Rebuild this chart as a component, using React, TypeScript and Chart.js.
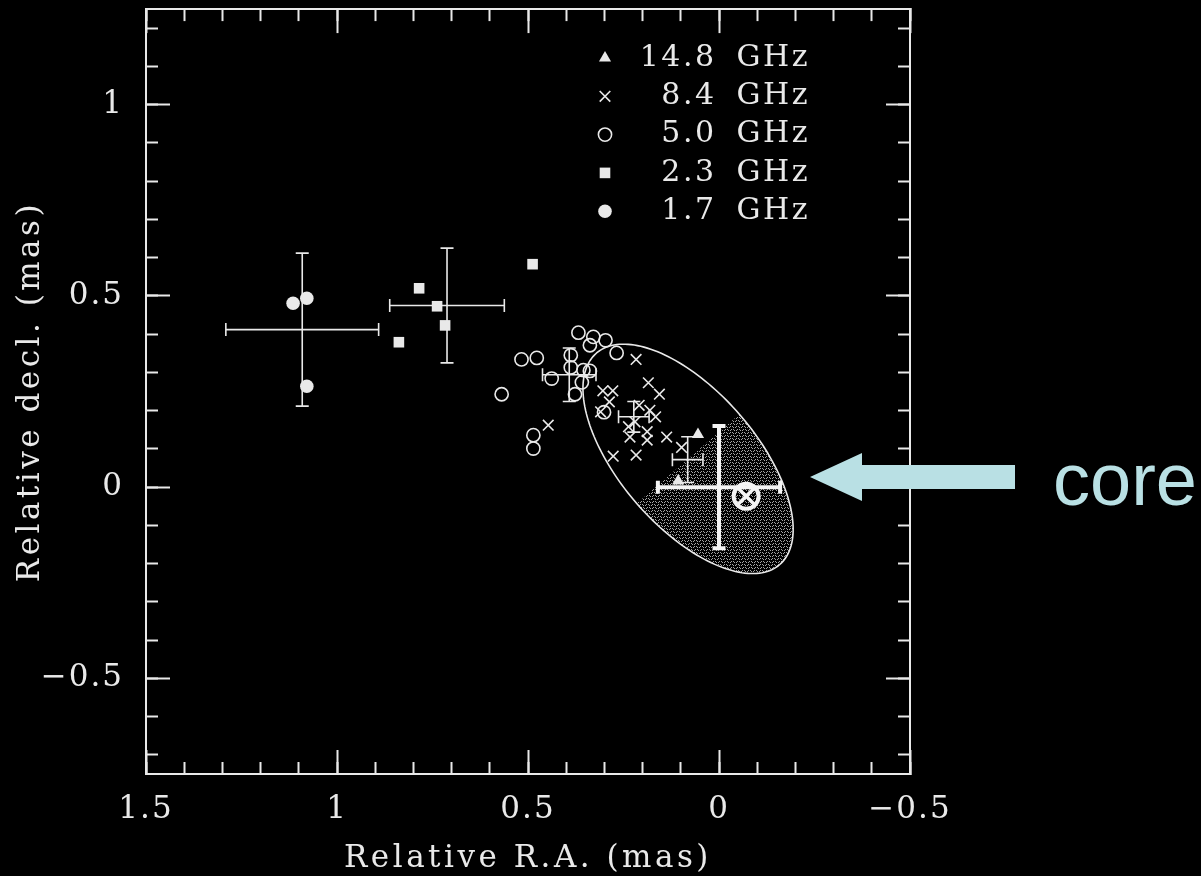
import React, { useEffect, useRef } from 'react';
import { Chart, registerables } from 'chart.js';
import { drawPoint } from 'chart.js/helpers';

Chart.register(...registerables);

// ---------------- data (relative R.A. / decl. in mas) ----------------
const LEGEND_LABELS = ['14.8 GHz', '8.4 GHz', '5.0 GHz', '2.3 GHz', '1.7 GHz'];

const F148_RA = [0.055, 0.107];
const F148_DEC = [0.138, 0.016];

const F84_RA = [0.217, 0.185, 0.156, 0.304, 0.278, 0.287, 0.31, 0.209, 0.181, 0.166, 0.22, 0.237, 0.188, 0.137, 0.188, 0.233, 0.098, 0.277, 0.217, 0.447];
const F84_DEC = [0.334, 0.273, 0.243, 0.252, 0.252, 0.223, 0.197, 0.214, 0.201, 0.184, 0.171, 0.158, 0.145, 0.131, 0.123, 0.131, 0.104, 0.081, 0.084, 0.162];

const F50_RA = [0.368, 0.329, 0.297, 0.338, 0.268, 0.517, 0.477, 0.388, 0.388, 0.438, 0.355, 0.338, 0.359, 0.377, 0.569, 0.486, 0.486, 0.301];
const F50_DEC = [0.404, 0.393, 0.384, 0.371, 0.351, 0.334, 0.338, 0.345, 0.313, 0.284, 0.306, 0.304, 0.274, 0.243, 0.243, 0.136, 0.101, 0.196];

const F23_RA = [0.785, 0.738, 0.717, 0.838, 0.488];
const F23_DEC = [0.52, 0.473, 0.423, 0.379, 0.583];

const F17_RA = [1.115, 1.079, 1.079];
const F17_DEC = [0.481, 0.494, 0.264];

// mean positions with error bars (1.7, 2.3, 5.0, 8.4, 14.8 GHz)
const ERR_RA = [1.091, 0.712, 0.392, 0.223, 0.082];
const ERR_DEC = [0.412, 0.475, 0.294, 0.184, 0.072];
const ERR_SIG_RA = [0.2, 0.15, 0.07, 0.04, 0.04];
const ERR_SIG_DEC = [0.2, 0.15, 0.07, 0.04, 0.06];

// core position estimate
const CORE_RA = 0.0;
const CORE_DEC = 0.0;
const CORE_SIG = 0.16;
const CORE_MARK_RA = -0.071;
const CORE_MARK_DEC = -0.024;

// beam ellipse
const BEAM_RA = 0.081;
const BEAM_DEC = 0.074;
const BEAM_MAJ = 0.366;
const BEAM_MIN = 0.178;
const BEAM_PA = 41; // degrees, N through E

// axes
const X_MIN = -0.5;
const X_MAX = 1.5;
const Y_MIN = -0.75;
const Y_MAX = 1.25;
const X_MAJOR = [1.5, 1, 0.5, 0, -0.5];
const Y_MAJOR = [-0.5, 0, 0.5, 1];
const X_MINOR = Array.from({ length: 21 }, (_, i) => Math.round((-0.5 + i * 0.1) * 10) / 10);
const Y_MINOR = Array.from({ length: 20 }, (_, i) => Math.round((-0.7 + i * 0.1) * 10) / 10);

const CORE_TEXT = 'core';

// ---------------- styling ----------------
const INK = '#e9e9e9';
const SERIF = "'DejaVu Serif', 'Liberation Serif', serif";
const CYAN = '#b9e0e4';

const pts = (xs: number[], ys: number[]) => xs.map((x, i) => ({ x, y: ys[i] }));

const fmt = (v: number) => (v < 0 ? '\u2212' + String(Math.abs(v)) : String(v));

function axis(id: string, ax: 'x' | 'y', position: string, ticksArr: number[], tl: number, weight: number, size: number, labels: boolean, title?: string) {
  const isX = ax === 'x';
  return {
    type: 'linear',
    axis: ax,
    position,
    weight,
    min: isX ? X_MIN : Y_MIN,
    max: isX ? X_MAX : Y_MAX,
    reverse: isX,
    afterBuildTicks: (s: any) => {
      s.ticks = ticksArr.map((v) => ({ value: v }));
    },
    afterFit: (s: any) => {
      if (isX) s.height = size;
      else s.width = size;
      s.paddingLeft = 0;
      s.paddingRight = 0;
      s.paddingTop = 0;
      s.paddingBottom = 0;
      if (title && !s._titlePatched) {
        const orig = s.drawTitle;
        s.drawTitle = function () {
          const c = this.ctx;
          const prev = c.letterSpacing;
          c.letterSpacing = '3.5px';
          orig.call(this);
          c.letterSpacing = prev;
        };
        s._titlePatched = true;
      }
    },
    grid: {
      display: true,
      drawOnChartArea: false,
      drawTicks: true,
      tickLength: tl,
      tickColor: INK,
      tickWidth: 2,
    },
    border: { display: true, color: INK, width: 2 },
    ticks: {
      display: labels,
      autoSkip: false,
      maxRotation: 0,
      minRotation: 0,
      padding: isX ? 44 : 46,
      color: INK,
      font: { family: SERIF, size: 31, lineHeight: 1 },
      callback: (v: number) => fmt(v),
    },
    title: title
      ? {
          display: true,
          text: title,
          color: INK,
          font: { family: SERIF, size: 31, lineHeight: 1 },
          padding: isX ? { top: 0, bottom: 2 } : { top: 15, bottom: 0 },
        }
      : { display: false },
  };
}

let stipple: CanvasPattern | null = null;
function getStipple(ctx: CanvasRenderingContext2D) {
  if (stipple) return stipple;
  const c = document.createElement('canvas');
  c.width = 6;
  c.height = 6;
  const g = c.getContext('2d')!;
  g.fillStyle = '#a3a3a3';
  [[0, 0], [1, 1], [3, 1], [4, 0], [1, 3], [2, 4], [4, 4], [5, 3]].forEach(([x, y]) => g.fillRect(x, y, 1, 1));
  stipple = ctx.createPattern(c, 'repeat');
  return stipple;
}

function errCross(ctx: CanvasRenderingContext2D, xs: any, ys: any, ra: number, dec: number, sra: number, sdec: number, lw: number, cap: number) {
  const cx = xs.getPixelForValue(ra);
  const cy = ys.getPixelForValue(dec);
  const x1 = xs.getPixelForValue(ra - sra);
  const x2 = xs.getPixelForValue(ra + sra);
  const y1 = ys.getPixelForValue(dec - sdec);
  const y2 = ys.getPixelForValue(dec + sdec);
  ctx.lineWidth = lw;
  ctx.beginPath();
  ctx.moveTo(x1, cy);
  ctx.lineTo(x2, cy);
  ctx.moveTo(cx, y1);
  ctx.lineTo(cx, y2);
  ctx.moveTo(x1, cy - cap);
  ctx.lineTo(x1, cy + cap);
  ctx.moveTo(x2, cy - cap);
  ctx.lineTo(x2, cy + cap);
  ctx.moveTo(cx - cap, y1);
  ctx.lineTo(cx + cap, y1);
  ctx.moveTo(cx - cap, y2);
  ctx.lineTo(cx + cap, y2);
  ctx.stroke();
}

const decor = {
  id: 'decor',
  beforeDraw(chart: any) {
    chart.ctx.letterSpacing = '2px';
  },
  beforeDatasetsDraw(chart: any) {
    const { ctx, scales } = chart;
    const xs = scales.x;
    const ys = scales.y;
    const pa = (BEAM_PA * Math.PI) / 180;
    const cx = xs.getPixelForValue(BEAM_RA);
    const cy = ys.getPixelForValue(BEAM_DEC);
    const ux = xs.getPixelForValue(BEAM_RA + BEAM_MAJ * Math.sin(pa)) - cx;
    const uy = ys.getPixelForValue(BEAM_DEC + BEAM_MAJ * Math.cos(pa)) - cy;
    const vx = xs.getPixelForValue(BEAM_RA + BEAM_MIN * Math.cos(pa)) - cx;
    const vy = ys.getPixelForValue(BEAM_DEC - BEAM_MIN * Math.sin(pa)) - cy;
    const at = (t: number) => [cx + Math.cos(t) * ux + Math.sin(t) * vx, cy + Math.cos(t) * uy + Math.sin(t) * vy];
    ctx.save();
    // shaded half
    ctx.beginPath();
    for (let i = 0; i <= 90; i++) {
      const t = Math.PI / 2 + (i / 90) * Math.PI;
      const [px, py] = at(t);
      if (i === 0) ctx.moveTo(px, py);
      else ctx.lineTo(px, py);
    }
    ctx.closePath();
    ctx.fillStyle = getStipple(ctx) as any;
    ctx.fill();
    // outline
    ctx.beginPath();
    for (let i = 0; i <= 180; i++) {
      const t = (i / 180) * Math.PI * 2;
      const [px, py] = at(t);
      if (i === 0) ctx.moveTo(px, py);
      else ctx.lineTo(px, py);
    }
    ctx.closePath();
    ctx.strokeStyle = INK;
    ctx.lineWidth = 1.6;
    ctx.stroke();
    ctx.restore();
  },
  afterDatasetsDraw(chart: any) {
    const { ctx, scales } = chart;
    const xs = scales.x;
    const ys = scales.y;
    ctx.save();
    ctx.strokeStyle = INK;
    ctx.lineCap = 'butt';
    for (let i = 0; i < ERR_RA.length; i++) {
      errCross(ctx, xs, ys, ERR_RA[i], ERR_DEC[i], ERR_SIG_RA[i], ERR_SIG_DEC[i], 1.6, 6.5);
    }
    ctx.strokeStyle = '#f4f4f4';
    errCross(ctx, xs, ys, CORE_RA, CORE_DEC, CORE_SIG, CORE_SIG, 4, 6.5);
    // core marker (circle with cross)
    const mx = xs.getPixelForValue(CORE_MARK_RA);
    const my = ys.getPixelForValue(CORE_MARK_DEC);
    ctx.lineWidth = 4;
    ctx.beginPath();
    ctx.arc(mx, my, 12.5, 0, Math.PI * 2);
    ctx.stroke();
    ctx.lineWidth = 3.5;
    ctx.beginPath();
    ctx.moveTo(mx - 8, my - 8);
    ctx.lineTo(mx + 8, my + 8);
    ctx.moveTo(mx + 8, my - 8);
    ctx.lineTo(mx - 8, my + 8);
    ctx.stroke();
    ctx.restore();
  },
  afterDraw(chart: any) {
    const { ctx } = chart;
    ctx.save();
    // legend
    const markX = 605;
    const textX = 810;
    const y0 = 58;
    const dy = 38.3;
    chart.data.datasets.forEach((ds: any, i: number) => {
      const y = y0 + i * dy;
      ctx.fillStyle = ds.pointBackgroundColor;
      ctx.strokeStyle = ds.pointBorderColor;
      ctx.lineWidth = ds.pointBorderWidth;
      drawPoint(ctx, { pointStyle: ds.pointStyle, rotation: 0, radius: ds.pointRadius, borderWidth: ds.pointBorderWidth }, markX, y);
      ctx.fillStyle = INK;
      ctx.font = `30px ${SERIF}`;
      (ctx as any).letterSpacing = '2.5px';
      (ctx as any).wordSpacing = '8px';
      ctx.textAlign = 'right';
      ctx.textBaseline = 'middle';
      ctx.fillText(ds.label, textX, y);
    });
    (ctx as any).wordSpacing = '0px';
    (ctx as any).letterSpacing = '0px';
    // arrow
    ctx.fillStyle = CYAN;
    ctx.beginPath();
    ctx.moveTo(810, 477);
    ctx.lineTo(862, 453);
    ctx.lineTo(862, 465);
    ctx.lineTo(1015, 465);
    ctx.lineTo(1015, 489);
    ctx.lineTo(862, 489);
    ctx.lineTo(862, 501);
    ctx.closePath();
    ctx.fill();
    ctx.font = "74px 'Liberation Sans', Arial, sans-serif";
    ctx.textAlign = 'left';
    ctx.textBaseline = 'alphabetic';
    ctx.fillText(CORE_TEXT, 1053, 505);
    ctx.restore();
  },
};

export default function App() {
  const ref = useRef<HTMLCanvasElement>(null);
  useEffect(() => {
    const canvas = ref.current!;
    const chart = new Chart(canvas, {
      type: 'scatter',
      data: {
        datasets: [
          { label: LEGEND_LABELS[0], data: pts(F148_RA, F148_DEC), pointStyle: 'triangle', pointRadius: 7, pointBackgroundColor: INK, pointBorderColor: INK, pointBorderWidth: 0 },
          { label: LEGEND_LABELS[1], data: pts(F84_RA, F84_DEC), pointStyle: 'crossRot', pointRadius: 7.5, pointBackgroundColor: 'rgba(0,0,0,0)', pointBorderColor: INK, pointBorderWidth: 1.6 },
          { label: LEGEND_LABELS[2], data: pts(F50_RA, F50_DEC), pointStyle: 'circle', pointRadius: 6.6, pointBackgroundColor: 'rgba(0,0,0,0)', pointBorderColor: INK, pointBorderWidth: 1.6 },
          { label: LEGEND_LABELS[3], data: pts(F23_RA, F23_DEC), pointStyle: 'rect', pointRadius: 7.5, pointBackgroundColor: INK, pointBorderColor: INK, pointBorderWidth: 0 },
          { label: LEGEND_LABELS[4], data: pts(F17_RA, F17_DEC), pointStyle: 'circle', pointRadius: 6.8, pointBackgroundColor: INK, pointBorderColor: INK, pointBorderWidth: 0 },
        ] as any,
      },
      options: {
        responsive: false,
        maintainAspectRatio: false,
        animation: false,
        events: [],
        layout: { padding: { left: 0, top: 9, right: 291, bottom: 0 } },
        plugins: { legend: { display: false }, tooltip: { enabled: false } },
        scales: {
          x: axis('x', 'x', 'bottom', X_MAJOR, -24, 1, 102, true, 'Relative R.A. (mas)'),
          xMinor: axis('xMinor', 'x', 'bottom', X_MINOR, -12, 0, 0, false),
          xTop: axis('xTop', 'x', 'top', X_MAJOR, -24, 1, 0, false),
          xTopMinor: axis('xTopMinor', 'x', 'top', X_MINOR, -12, 0, 0, false),
          y: axis('y', 'y', 'left', Y_MAJOR, -24, 1, 146, true, 'Relative decl. (mas)'),
          yMinor: axis('yMinor', 'y', 'left', Y_MINOR, -12, 0, 0, false),
          yRight: axis('yRight', 'y', 'right', Y_MAJOR, -24, 1, 0, false),
          yRightMinor: axis('yRightMinor', 'y', 'right', Y_MINOR, -12, 0, 0, false),
        } as any,
      },
      plugins: [decor],
    } as any);
    return () => chart.destroy();
  }, []);
  return (
    <div style={{ position: 'fixed', left: 0, top: 0, width: 1201, height: 876, background: '#000', overflow: 'hidden' }}>
      <canvas ref={ref} width={1201} height={876} style={{ display: 'block', width: 1201, height: 876 }} />
    </div>
  );
}
